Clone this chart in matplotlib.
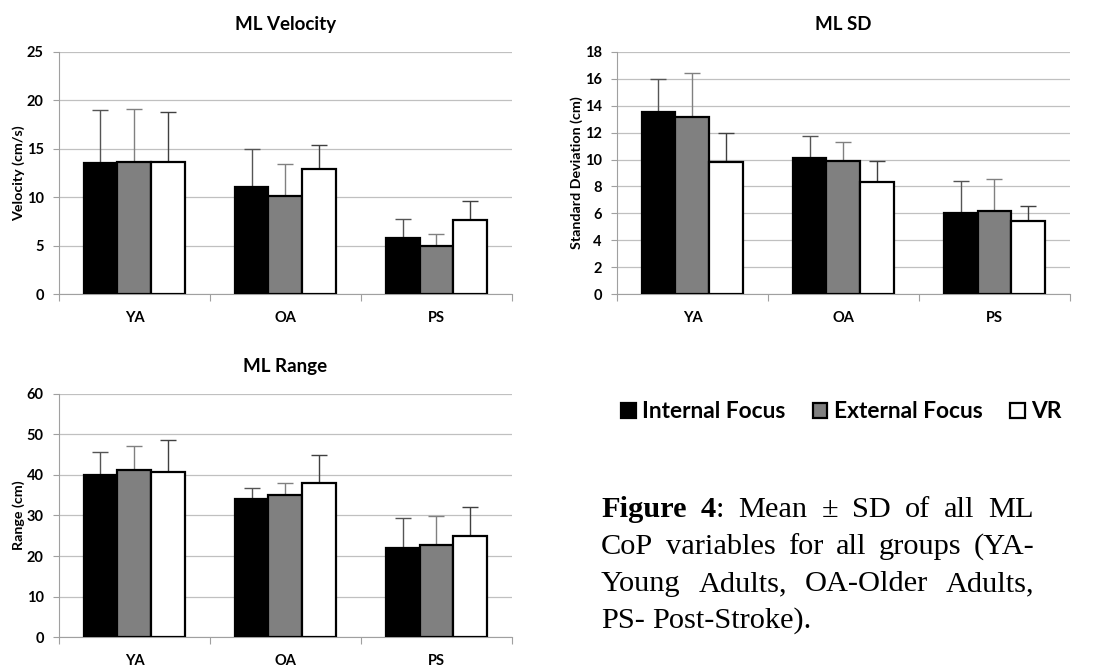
import numpy as np
import matplotlib
matplotlib.use('Agg')
import matplotlib.pyplot as plt

# groups and conditions
groups = ['YA', 'OA', 'PS']
conditions = ['Internal Focus', 'External Focus', 'VR']
bar_colors = ['black', '#808080', 'white']
err_colors = ['#555555', '#808080', '#404040']

# ML velocity (cm/s): means and SDs per condition, order YA, OA, PS
vel_if = [13.55, 11.05, 5.8]
vel_ef = [13.6, 10.15, 5.0]
vel_vr = [13.6, 12.95, 7.6]
vel_if_sd = [5.45, 3.98, 2.0]
vel_ef_sd = [5.5, 3.23, 1.16]
vel_vr_sd = [5.25, 2.45, 2.03]

# ML standard deviation (cm)
sd_if = [13.5, 10.1, 6.0]
sd_ef = [13.2, 9.9, 6.2]
sd_vr = [9.8, 8.3, 5.4]
sd_if_sd = [2.47, 1.68, 2.37]
sd_ef_sd = [3.26, 1.41, 2.39]
sd_vr_sd = [2.18, 1.6, 1.16]

# ML range (cm)
rng_if = [39.9, 34.0, 22.0]
rng_ef = [41.2, 35.0, 22.7]
rng_vr = [40.8, 38.0, 24.9]
rng_if_sd = [5.7, 2.9, 7.3]
rng_ef_sd = [6.0, 2.9, 7.1]
rng_vr_sd = [7.9, 6.9, 7.2]

sans = 'Lato'
fig = plt.figure(figsize=(10.98, 6.69), dpi=100)


def bar_panel(rect, title, ylabel, means, sds, ymax, ystep):
    ax = fig.add_axes(rect)
    x = np.arange(len(groups))
    w = 0.225
    for i in range(3):
        pos = x + (i - 1) * w
        ax.errorbar(pos, means[i], yerr=[np.zeros(3), sds[i]], fmt='none',
                    ecolor=err_colors[i], elinewidth=1.0, capsize=5.5,
                    capthick=1.0, zorder=2)
        ax.bar(pos, means[i], w, color=bar_colors[i], edgecolor='black',
               linewidth=1.6, zorder=3, label=conditions[i])
    ax.set_xlim(-0.5, 2.5)
    ax.set_ylim(0, ymax)
    ax.set_yticks(np.arange(0, ymax + 0.1, ystep))
    ax.set_xticks(x)
    ax.set_xticklabels(groups)
    ax.set_xticks([-0.5, 0.5, 1.5, 2.5], minor=True)
    ax.tick_params(axis='x', which='major', length=0, pad=12)
    ax.tick_params(axis='x', which='minor', length=5, width=0.8,
                   color='#a0a0a0', direction='out')
    ax.tick_params(axis='y', length=4, width=0.8, color='#a0a0a0', pad=7)
    for lab in ax.get_xticklabels() + ax.get_yticklabels():
        lab.set_fontfamily(sans)
        lab.set_fontweight('bold')
        lab.set_fontsize(10.5)
    ax.grid(axis='y', color='#c0c0c0', linewidth=0.9, zorder=0)
    ax.set_axisbelow(True)
    for s in ['top', 'right']:
        ax.spines[s].set_visible(False)
    for s in ['left', 'bottom']:
        ax.spines[s].set_color('#a0a0a0')
        ax.spines[s].set_linewidth(0.8)
    ax.set_title(title, fontfamily=sans, fontweight='bold', fontsize=13.5, pad=16)
    ax.set_ylabel(ylabel, fontfamily=sans, fontweight='bold', fontsize=10.3,
                  labelpad=1)
    return ax


ax1 = bar_panel([0.0537, 0.5605, 0.4126, 0.3618], 'ML Velocity',
                'Velocity (cm/s)', [vel_if, vel_ef, vel_vr],
                [vel_if_sd, vel_ef_sd, vel_vr_sd], 25, 5)
ax2 = bar_panel([0.5619, 0.5605, 0.4126, 0.3618], 'ML SD',
                'Standard Deviation (cm)', [sd_if, sd_ef, sd_vr],
                [sd_if_sd, sd_ef_sd, sd_vr_sd], 18, 2)
ax3 = bar_panel([0.0537, 0.0478, 0.4126, 0.3633], 'ML Range',
                'Range (cm)', [rng_if, rng_ef, rng_vr],
                [rng_if_sd, rng_ef_sd, rng_vr_sd], 60, 10)

handles, labels = ax1.get_legend_handles_labels()
fig.legend(handles, labels, loc='center left', bbox_to_anchor=(0.5656, 0.3842),
           ncol=3, frameon=False, handlelength=0.65, handleheight=0.7,
           handletextpad=0.27, columnspacing=1.2, borderpad=0,
           borderaxespad=0,
           prop={'family': sans, 'weight': 'bold', 'size': 16.4})

# caption, justified line by line
caption = [
    [[('Figure', 'bold')], [('4', 'bold'), (':', 'normal')], [('Mean', 'normal')],
     [('\u00b1', 'normal')], [('SD', 'normal')], [('of', 'normal')],
     [('all', 'normal')], [('ML', 'normal')]],
    [[(w, 'normal')] for w in 'CoP variables for all groups (YA-'.split()],
    [[(w, 'normal')] for w in 'Young Adults, OA-Older Adults,'.split()],
    [[(w, 'normal')] for w in 'PS- Post-Stroke).'.split()],
]
left_px, right_px = 601, 1034
base_px = [517, 554, 591, 628]
cap_size = 21.9
renderer = fig.canvas.get_renderer()


def text_width(s, weight):
    t = fig.text(0, 0, s, fontfamily='Liberation Serif', fontsize=cap_size,
                 fontweight=weight)
    wpx = t.get_window_extent(renderer).width
    t.remove()
    return wpx


space_px = text_width('a b', 'normal') - text_width('ab', 'normal')
W, H = fig.get_size_inches() * fig.dpi
for li, line in enumerate(caption):
    widths = [[text_width(s, wt) for s, wt in word] for word in line]
    total = sum(sum(ws) for ws in widths)
    if li < len(caption) - 1:
        gap = (right_px - left_px - total) / (len(line) - 1)
    else:
        gap = space_px
    xp = left_px
    yf = 1 - base_px[li] / H
    for word, ws in zip(line, widths):
        for (s, wt), wpx in zip(word, ws):
            fig.text(xp / W, yf, s, fontfamily='Liberation Serif',
                     fontsize=cap_size, fontweight=wt, va='baseline')
            xp += wpx
        xp += gap

fig.savefig('out.png', dpi=100)
